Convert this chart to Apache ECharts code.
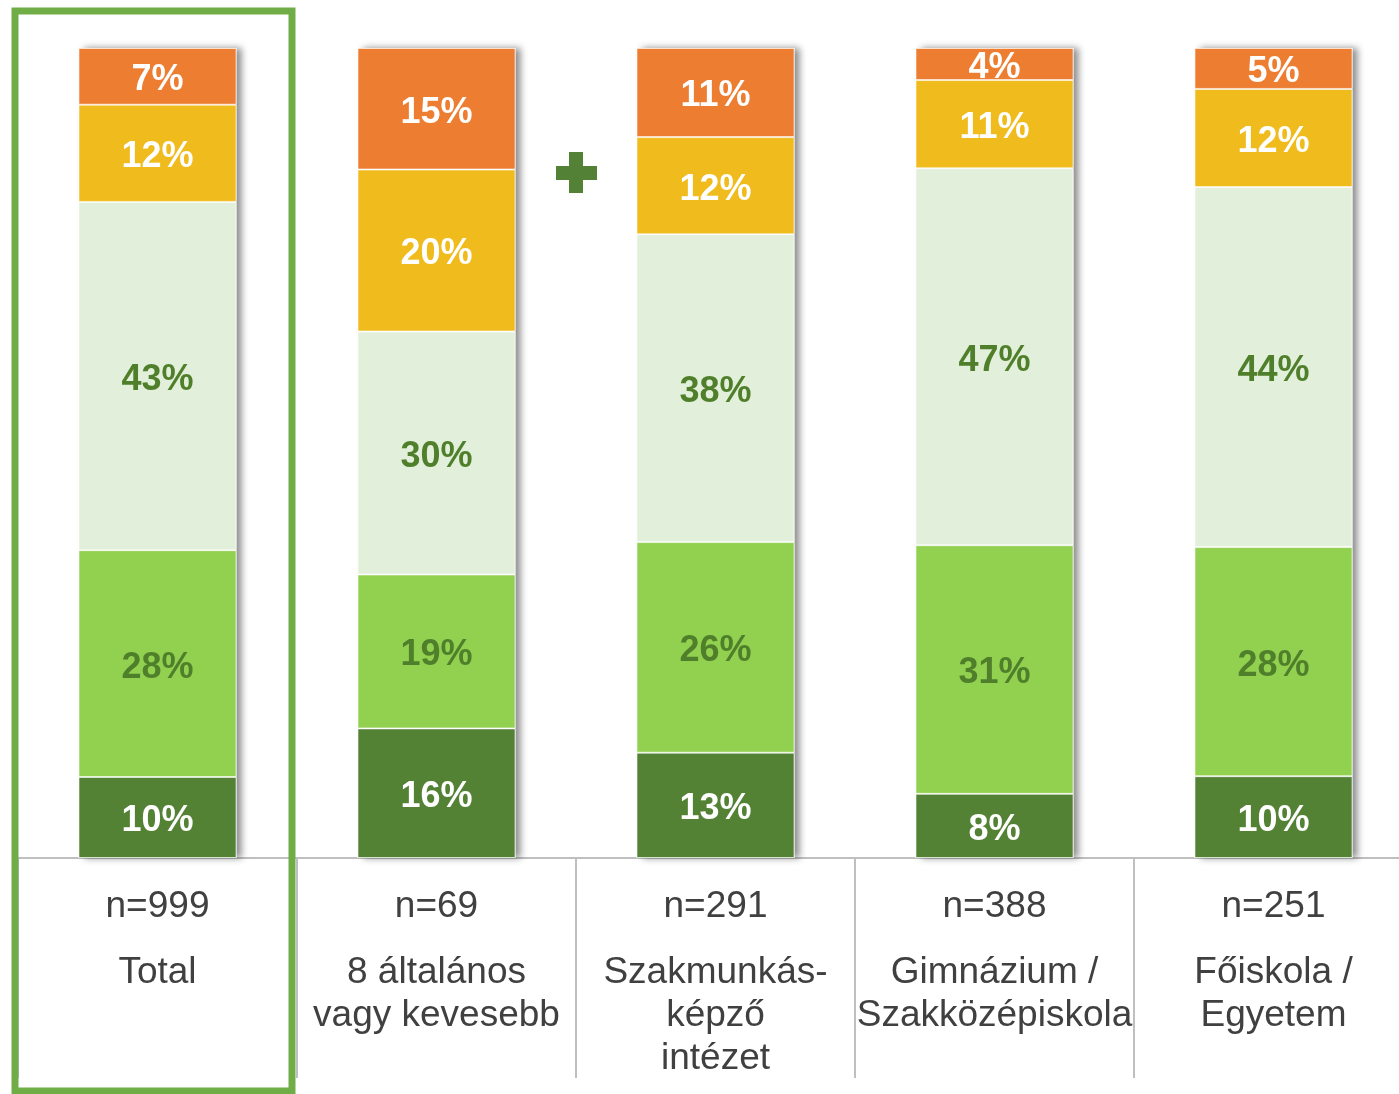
<!DOCTYPE html>
<html>
<head>
<meta charset="utf-8">
<title>chart</title>
<script src="https://cdn.jsdelivr.net/npm/echarts@6/dist/echarts.min.js"></script>
<style>
    html, body { margin: 0; padding: 0; background: #fff; }
    #main { width: 1399px; height: 1094px; }
</style>
</head>
<body>
<div id="main"></div>
<script>
'use strict';
// categories (bottom table)
var categories = ["Total", "8 általános\nvagy kevesebb", "Szakmunkás-\nképző\nintézet", "Gimnázium /\nSzakközépiskola", "Főiskola /\nEgyetem"];
var sampleSizes = [999, 69, 291, 388, 251];

// stacked values, bottom to top
var darkGreen = [10, 16, 13, 8, 10];
var midGreen = [28, 19, 26, 31, 28];
var lightGreen = [43, 30, 38, 47, 44];
var yellow = [12, 20, 12, 11, 12];
var orange = [7, 15, 11, 4, 5];

var layers = [
    { name: "s1", data: darkGreen, color: "#548235", labelColor: "#ffffff" },
    { name: "s2", data: midGreen, color: "#92D050", labelColor: "#4F7F2B" },
    { name: "s3", data: lightGreen, color: "#E2EFDA", labelColor: "#4F7F2B" },
    { name: "s4", data: yellow, color: "#F0BB1D", labelColor: "#ffffff" },
    { name: "s5", data: orange, color: "#ED7D31", labelColor: "#ffffff" }
];

// each bar fills the full height, so scale by its own total
var totals = categories.map(function (c, i) {
    var s = 0;
    for (var k = 0; k < layers.length; k++) {
        s += layers[k].data[i];
    }
    return s;
});

var chart = echarts.init(document.getElementById("main"), null, { renderer: "canvas" });

var series = [{
    name: "shadow",
    type: "bar",
    barWidth: 158,
    barGap: "-100%",
    silent: true,
    z: 1,
    data: totals.map(function () { return 100; }),
    itemStyle: {
        color: "#ffffff",
        shadowColor: "rgba(0,0,0,0.45)",
        shadowBlur: 7,
        shadowOffsetX: 5
    }
}];

layers.forEach(function (layer) {
    series.push({
        name: layer.name,
        type: "bar",
        stack: "all",
        barWidth: 158,
        barGap: "-100%",
        z: 2,
        data: layer.data.map(function (v, i) {
            return { value: v / totals[i] * 100, raw: v };
        }),
        itemStyle: {
            color: layer.color,
            borderColor: "rgba(255,255,255,0.55)",
            borderWidth: 1
        },
        label: {
            show: true,
            position: "inside",
            offset: [0, 4],
            color: layer.labelColor,
            fontFamily: "Liberation Sans, Arial, sans-serif",
            fontWeight: "bold",
            fontSize: 36,
            formatter: function (p) {
                return p.data.raw + "%";
            }
        }
    });
});

var option = {
    animation: false,
    backgroundColor: "#ffffff",
    grid: {
        left: 18,
        top: 48,
        width: 1395,
        height: 810,
        outerBoundsMode: "none",
        containLabel: false
    },
    xAxis: {
        type: "category",
        data: categories,
        boundaryGap: true,
        axisLine: { lineStyle: { color: "#BFBFBF", width: 2 } },
        axisTick: {
            show: true,
            inside: false,
            length: 220,
            lineStyle: { color: "#BFBFBF", width: 2 }
        },
        axisLabel: {
            interval: 0,
            margin: 27,
            fontFamily: "Liberation Sans, Arial, sans-serif",
            formatter: function (value, idx) {
                return "{n|n=" + sampleSizes[idx] + "}\n{gap|}\n{c|" + value + "}";
            },
            rich: {
                n: { fontSize: 37, lineHeight: 43, color: "#404040", fontFamily: "Liberation Sans, Arial, sans-serif" },
                gap: { fontSize: 10, lineHeight: 23 },
                c: { fontSize: 37, lineHeight: 43, color: "#404040", fontFamily: "Liberation Sans, Arial, sans-serif" }
            }
        }
    },
    yAxis: {
        type: "value",
        min: 0,
        max: 100,
        show: false,
        splitLine: { show: false }
    },
    graphic: [
        {
            // highlight box round the Total column
            type: "rect",
            z: 100,
            shape: { x: 15, y: 11, width: 277, height: 1080 },
            style: { fill: null, stroke: "#70AD47", lineWidth: 7 }
        },
        {
            type: "group",
            z: 100,
            children: [
                { type: "rect", shape: { x: 556, y: 166, width: 41, height: 14 }, style: { fill: "#538135" } },
                { type: "rect", shape: { x: 569, y: 152, width: 14, height: 41 }, style: { fill: "#538135" } }
            ]
        }
    ],
    series: series
};

chart.setOption(option);
</script>
</body>
</html>
